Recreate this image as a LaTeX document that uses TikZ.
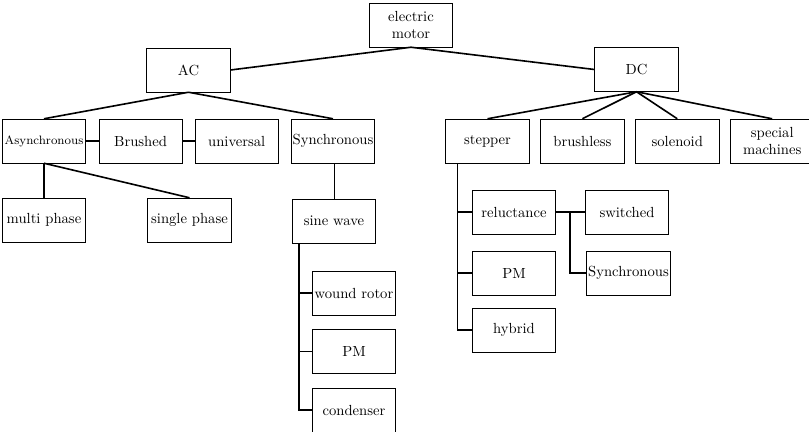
\documentclass[tikz,border=0pt]{standalone}
\usetikzlibrary{positioning}
\tikzset{
box/.style={draw,line width=0.5pt,minimum width=2cm,minimum height=1.05cm,inner sep=1pt,align=center},
link/.style={line width=1.1pt}
}
\begin{document}
\begin{tikzpicture}[x=0.024cm,y=-0.024cm]
\useasboundingbox (0,0) rectangle (809,431);
% top levels
\node[box](motor) at (411,25){electric\\motor};
\node[box](ac) at (188.5,70){AC};
\node[box](dc) at (636.5,69.5){DC};
% AC side
\node[box,font=\fontsize{8.3}{10}\selectfont](async) at (44,141){Asynchronous};
\node[box,right=0.3cm of async](brushed){Brushed};
\node[box,right=0.29cm of brushed](universal){universal};
\node[box,right=0.29cm of universal](sync){Synchronous};
\node[box](multi) at (44,220){multi phase};
\node[box](single) at (189.5,220){single phase};
\node[box](sine) at (334,221){sine wave};
\node[box](wound) at (354,293){wound rotor};
\node[box,below=0.34cm of wound](acpm){PM};
\node[box,below=0.34cm of acpm](condenser){condenser};
% DC side
\node[box](stepper) at (487.5,141){stepper};
\node[box,right=0.26cm of stepper](brushless){brushless};
\node[box,right=0.26cm of brushless](solenoid){solenoid};
\node[box,right=0.26cm of solenoid](special){special\\machines};
\node[box](reluct) at (514,212){reluctance};
\node[box](dcpm) at (514,273){PM};
\node[box](hybrid) at (514,330){hybrid};
\node[box](switched) at (627,212){switched};
\node[box](dcsync) at (628.5,273){Synchronous};
% connectors
\draw[link](motor.south)--(ac.east);\draw[link](motor.south)--(dc.west);
\draw[link](ac.south)--(async.north);\draw[link](ac.south)--(sync.north);
\foreach \n in {stepper,brushless,solenoid,special}
  \draw[link](dc.south)--(\n.north);
\draw[link](async)--(brushed);\draw[link](brushed)--(universal);
\draw[link](async.south)--(multi.north);\draw[link](async.south)--(single.north);
\draw[link]([xshift=0.04cm]sync.south)--([xshift=0.04cm]sync.south |- sine.north);
\coordinate(sinetrunk) at ([xshift=0.17cm]sine.south west);
\foreach \n in {wound,acpm,condenser}
  \draw[link](sinetrunk)|-(\n.west);
\coordinate(steptrunk) at ([xshift=0.29cm]stepper.south west);
\foreach \n in {reluct,dcpm,hybrid}
  \draw[link](steptrunk)|-(\n.west);
\draw[link](reluct)--(switched);
\coordinate(relfork) at ([xshift=0.34cm]reluct.east);
\draw[link](relfork)|-(dcsync.west);
\end{tikzpicture}
\end{document}
